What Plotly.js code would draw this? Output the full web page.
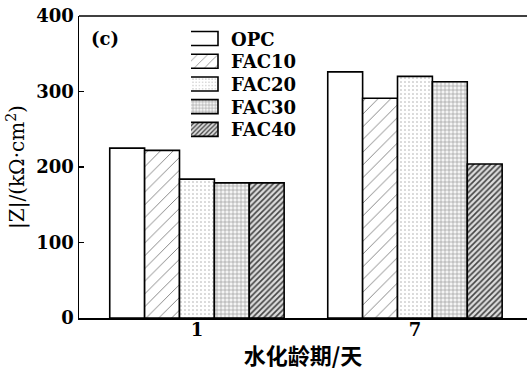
<!DOCTYPE html>
<html>
<head>
<meta charset="utf-8">
<script src="https://cdn.plot.ly/plotly-3.0.1.min.js"></script>
<style>
  html, body { margin: 0; padding: 0; background: #fff; }
  #chart { width: 530px; height: 370px; }
</style>
</head>
<body>
<div id="chart"></div>
<script>
// Impedance modulus |Z| by hydration age
const ages = ['1', '7'];
const seriesNames = ['OPC', 'FAC10', 'FAC20', 'FAC30', 'FAC40'];
const OPC   = [225, 326];
const FAC10 = [222, 291];
const FAC20 = [184, 320];
const FAC30 = [179, 313];
const FAC40 = [179, 204];
const yTicks = [0, 100, 200, 300, 400];

const values = [OPC, FAC10, FAC20, FAC30, FAC40];
const patterns = [
  { shape: '' },
  { shape: '/', size: 9, solidity: 0.07, fgcolor: '#444', bgcolor: '#fff' },
  { shape: '.', size: 4, solidity: 0.12, fgcolor: '#aaa', bgcolor: '#fff' },
  { shape: '+', size: 4, solidity: 0.3, fgcolor: '#999', bgcolor: '#f4f4f4' },
  { shape: '/', size: 4, solidity: 0.4, fgcolor: '#444', bgcolor: '#ddd' }
];

const serif = 'DejaVu Serif';

const traces = seriesNames.map((name, i) => ({
  type: 'bar',
  name: name,
  x: ages,
  y: values[i],
  marker: {
    color: '#fff',
    line: { color: '#000', width: 1.6 },
    pattern: patterns[i]
  }
}));

const layout = {
  width: 530,
  height: 370,
  margin: { l: 79, r: 3, t: 16, b: 52 },
  paper_bgcolor: '#fff',
  plot_bgcolor: '#fff',
  font: { family: serif },
  barmode: 'group',
  bargap: 0.2,
  bargroupgap: 0,
  showlegend: true,
  legend: {
    x: 0.25, y: 0.985, xanchor: 'left', yanchor: 'top',
    bgcolor: 'rgba(0,0,0,0)',
    font: { family: serif, size: 18, color: '#000', weight: 'bold' },
    itemwidth: 30,
    tracegroupgap: 0
  },
  xaxis: {
    type: 'category',
    range: [-0.541, 1.514],
    showline: true, linecolor: '#000', linewidth: 1.5,
    ticks: '', showgrid: false, zeroline: false,
    tickfont: { family: serif, size: 18, color: '#000', weight: 'bold' },
    title: {
      text: '水化龄期/天',
      font: { family: 'Noto Sans CJK SC', size: 22, color: '#000', weight: 'bold' },
      standoff: 4
    }
  },
  yaxis: {
    range: [0, 400],
    tickvals: yTicks,
    showline: true, linecolor: '#000', linewidth: 1.5,
    ticks: 'inside', ticklen: 5, tickwidth: 1.5, tickcolor: '#000',
    showgrid: false, zeroline: false,
    tickfont: { family: serif, size: 18, color: '#000', weight: 'bold' },
    title: {
      text: '|Z|/(kΩ·cm<sup>2</sup>)',
      font: { family: serif, size: 20, color: '#000' },
      standoff: 6
    }
  },
  shapes: [
    { type: 'line', xref: 'paper', yref: 'paper', x0: 0, x1: 1, y0: 1, y1: 1,
      line: { color: '#000', width: 1.5 } }
  ],
  annotations: [
    { text: '(c)', xref: 'paper', yref: 'paper', x: 0.022, y: 0.925,
      xanchor: 'left', yanchor: 'middle', showarrow: false,
      font: { family: serif, size: 18, color: '#000', weight: 'bold' } }
  ]
};

Plotly.newPlot('chart', traces, layout, { staticPlot: true, displayModeBar: false }).then(() => {
  // widen the legend swatches into flat rectangles and tighten the row spacing
  document.querySelectorAll('.legend .legendpoints path').forEach(p => {
    p.setAttribute('d', 'M-17,-7H17V7H-17Z');
    p.setAttribute('transform', 'translate(10,0)');
  });
  const rows = document.querySelectorAll('.legend .traces');
  rows.forEach((g, i) => {
    g.setAttribute('transform', 'translate(0,' + (18 + i * 22.7) + ')');
  });
  // pull the category labels up closer to the axis line
  document.querySelectorAll('.xtick text').forEach(t => {
    const y = parseFloat(t.getAttribute('y')) || 0;
    t.setAttribute('y', y - 5);
  });
});
</script>
</body>
</html>
